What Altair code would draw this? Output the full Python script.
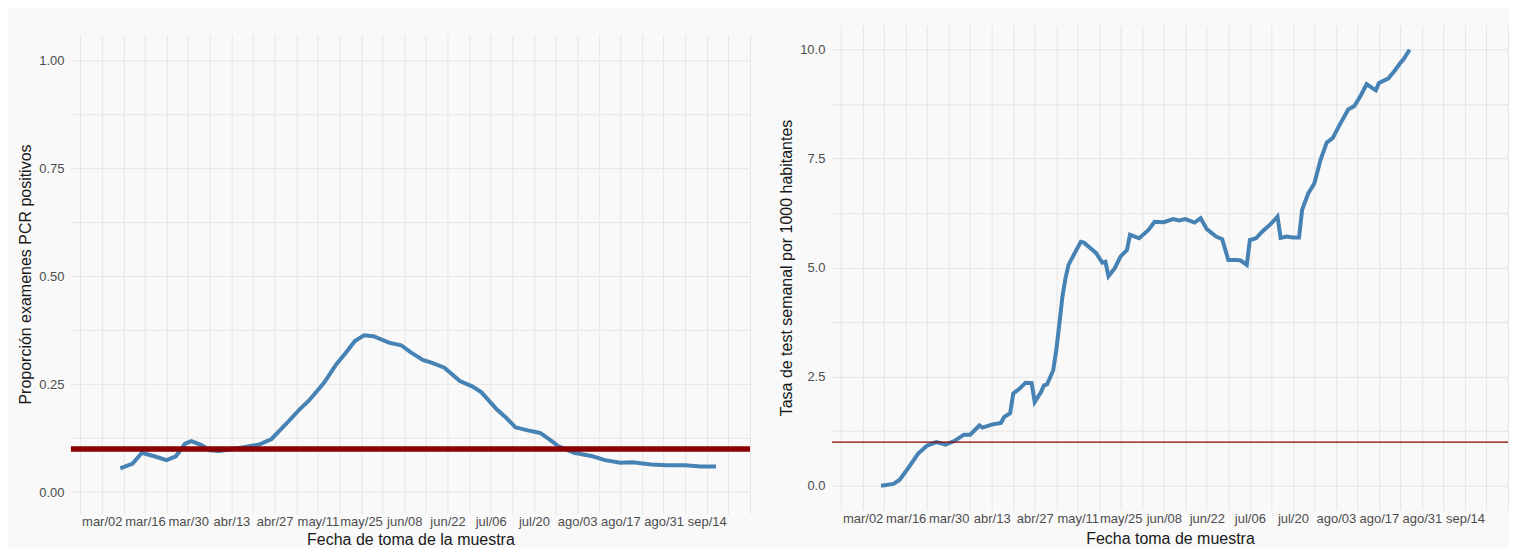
import altair as alt
import pandas as pd

# Panel izquierdo: proporción de exámenes PCR positivos (días desde 2020-03-02)
pos_dias = [6, 10, 13, 17, 21, 24, 27, 29, 32, 35, 38, 42, 46, 51, 55, 60, 64, 67, 72, 76,
            79, 82, 85, 88, 93, 97, 100, 104, 107, 111, 116, 120, 123, 128, 131, 134, 138, 142, 145, 148,
            153, 159, 163, 168, 172, 178, 183, 189, 194, 199]
pos_vals = [0.055, 0.066, 0.091, 0.083, 0.074, 0.083, 0.112, 0.118, 0.110, 0.097,
            0.095, 0.099, 0.104, 0.110, 0.123, 0.160, 0.191, 0.211, 0.253, 0.296,
            0.322, 0.350, 0.363, 0.361, 0.346, 0.340, 0.324, 0.306, 0.299, 0.288,
            0.257, 0.245, 0.231, 0.191, 0.172, 0.150, 0.143, 0.137, 0.122, 0.106,
            0.091, 0.083, 0.074, 0.068, 0.069, 0.064, 0.062, 0.062, 0.059, 0.059]
pos_umbral = [0.10]

# Panel derecho: tasa de test semanal por 1000 habitantes
tasa_dias = [6, 10, 12, 15, 18, 21, 24, 27, 30, 33,
             35, 38, 39, 42, 45, 46, 48, 49, 51, 53,
             55, 56, 58, 59, 60, 62, 63, 64, 65, 66,
             67, 69, 71, 72, 75, 76, 78, 79, 80, 82,
             84, 86, 87, 90, 93, 95, 98, 101, 103, 105,
             108, 110, 112, 115, 117, 119, 122, 123, 125, 126,
             128, 130, 133, 135, 136, 138, 140, 142, 143, 145,
             147, 149, 151, 153, 155, 158, 160, 162, 164, 167,
             168, 171, 173, 175, 176, 178]
tasa_vals = [0.00, 0.04, 0.13, 0.42, 0.73, 0.92, 1.00, 0.94, 1.03, 1.17,
             1.17, 1.38, 1.33, 1.40, 1.44, 1.57, 1.66, 2.11, 2.22, 2.36,
             2.35, 1.92, 2.14, 2.30, 2.32, 2.64, 3.10, 3.70, 4.33, 4.75,
             5.06, 5.33, 5.59, 5.57, 5.39, 5.33, 5.11, 5.13, 4.80, 4.98,
             5.26, 5.40, 5.75, 5.67, 5.86, 6.05, 6.04, 6.11, 6.08, 6.11,
             6.03, 6.13, 5.88, 5.71, 5.65, 5.17, 5.17, 5.16, 5.06, 5.63,
             5.67, 5.82, 6.01, 6.17, 5.68, 5.71, 5.69, 5.69, 6.32, 6.70,
             6.93, 7.47, 7.86, 7.97, 8.24, 8.62, 8.70, 8.93, 9.20, 9.06,
             9.23, 9.33, 9.50, 9.69, 9.77, 9.99]
tasa_umbral = [1.0]

BASE = pd.Timestamp("2020-03-02")


def fechas(dias):
    return [(BASE + pd.Timedelta(days=d)).strftime("%Y-%m-%d") for d in dias]


df_pos = pd.DataFrame({"fecha": fechas(pos_dias), "valor": pos_vals})
df_tasa = pd.DataFrame({"fecha": fechas(tasa_dias), "valor": tasa_vals})
df_pos_u = pd.DataFrame({"y": pos_umbral})
df_tasa_u = pd.DataFrame({"y": tasa_umbral})

semanas = pd.date_range("2020-02-24", "2020-09-28", freq="7D")
x_vals = [alt.DateTime(year=t.year, month=t.month, date=t.day, utc=True) for t in semanas]
x_dom = [alt.DateTime(year=2020, month=2, date=21, utc=True),
         alt.DateTime(year=2020, month=9, date=28, utc=True)]
x_label = ("(round((datum.value - utc(2020,2,2))/86400000) % 14 == 0 && datum.value < utc(2020,8,27)) ? "
           "['ene','feb','mar','abr','may','jun','jul','ago','sep','oct','nov','dic'][utcmonth(datum.value)]"
           " + '/' + utcFormat(datum.value, '%d') : ''")

FONT = "Liberation Sans"
BLUE = "#4682b4"
RED = "#8b0000"


def x_enc(title, lpad, tpad):
    return alt.X("fecha:T",
                 scale=alt.Scale(type="utc", domain=x_dom),
                 axis=alt.Axis(values=x_vals, labelExpr=x_label, title=title,
                               labelOverlap=False, labelFlush=False,
                               labelPadding=lpad, titlePadding=tpad))


# Left
y_left_vals = [0.125 * k for k in range(0, 9)]
left_line = alt.Chart(df_pos).mark_line(color=BLUE, strokeWidth=4).encode(
    x=x_enc("Fecha de toma de la muestra", 2, 3),
    y=alt.Y("valor:Q",
            scale=alt.Scale(domain=[-0.05, 1.06], nice=False, zero=False),
            axis=alt.Axis(values=y_left_vals,
                          labelExpr="datum.value % 0.25 == 0 ? format(datum.value, '.2f') : ''",
                          title="Proporción examenes PCR positivos"))
)
left_rule = alt.Chart(df_pos_u).mark_rule(color=RED, strokeWidth=5.5).encode(y="y:Q")
left = alt.layer(left_line, left_rule).properties(width=680, height=480)

spacer = alt.Chart(pd.DataFrame({"a": [0]})).mark_rule(opacity=0).encode(
    x=alt.value(0), x2=alt.value(1), y=alt.value(0)
).properties(width=680, height=1)

left_col = alt.vconcat(spacer, left, spacing=8)

# Right
y_right_vals = [1.25 * k for k in range(0, 9)]
right_line = alt.Chart(df_tasa).mark_line(color=BLUE, strokeWidth=4).encode(
    x=x_enc("Fecha toma de muestra", 3, 5),
    y=alt.Y("valor:Q",
            scale=alt.Scale(domain=[-0.55, 10.55], nice=False, zero=False),
            axis=alt.Axis(values=y_right_vals,
                          labelExpr="datum.value % 2.5 == 0 ? format(datum.value, '.1f') : ''",
                          title="Tasa de test semanal por 1000 habitantes"))
)
right_rule = alt.Chart(df_tasa_u).mark_rule(color=RED, strokeWidth=1.2).encode(y="y:Q")
right = alt.layer(right_line, right_rule).properties(width=677, height=485)

chart = alt.hconcat(left_col, right, spacing=25).properties(
    padding={"left": 9, "top": 17, "right": 0, "bottom": 0}
).configure(
    background="#f9f9f9"
).configure_view(
    stroke=None
).configure_axis(
    grid=True, gridColor="#e6e6e6", gridWidth=1,
    domain=False, ticks=False,
    labelFont=FONT, labelFontSize=13, labelColor="#4d4d4d",
    titleFont=FONT, titleFontSize=16, titleFontWeight="normal", titleColor="#1a1a1a",
    titlePadding=5
).configure_axisY(
    labelPadding=7
)

chart.save("out.html", embed_options={"renderer": "svg", "actions": False})
